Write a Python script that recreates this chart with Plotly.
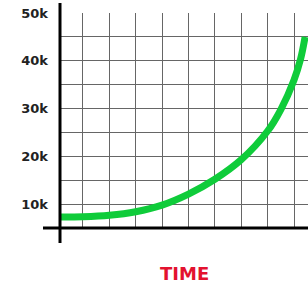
import plotly.graph_objects as go

# Data
time_x = [0.13, 1.0, 2.0, 3.0, 4.0, 5.0, 6.0, 7.0, 8.0, 8.5, 9.0, 9.25, 9.42]
value_y = [7300, 7350, 7650, 8400, 9800, 12100, 15200, 19300, 25300, 29800, 36000, 40400, 45000]

y_tick_vals = [5000, 10000, 15000, 20000, 25000, 30000, 35000, 40000, 45000, 50000]
y_tick_text = ["", "10k", "", "20k", "", "30k", "", "40k", "", "50k"]
x_grid_vals = [1, 2, 3, 4, 5, 6, 7, 8, 9]
x_title = "TIME"

fig = go.Figure()
fig.add_trace(go.Scatter(
    x=time_x, y=value_y, mode="lines",
    line=dict(color="#0fcc3a", width=7, shape="spline", smoothing=1.0),
    hoverinfo="skip", showlegend=False, cliponaxis=False,
))

fig.update_layout(
    width=308, height=285,
    margin=dict(l=60, r=0, t=13, b=57),
    paper_bgcolor="white", plot_bgcolor="white",
    xaxis=dict(
        range=[0.13, 9.53], tickvals=x_grid_vals, showticklabels=False,
        showgrid=True, gridcolor="#666666", gridwidth=1.2,
        zeroline=False, showline=False, ticks="",
        fixedrange=True,
    ),
    yaxis=dict(
        range=[5000, 50000], tickvals=y_tick_vals, ticktext=y_tick_text,
        showgrid=True, gridcolor="#666666", gridwidth=1.2,
        zeroline=False, showline=False, ticks="", ticklabelstandoff=11,
        tickfont=dict(family="DejaVu Sans", size=13, color="#222222", weight="bold"),
        fixedrange=True,
    ),
    shapes=[
        # vertical axis line (extends beyond plot area)
        dict(type="line", xref="paper", yref="paper", x0=0, x1=0,
             y0=-15/215, y1=(215 + 10)/215, line=dict(color="black", width=3)),
        # horizontal axis line
        dict(type="line", xref="paper", yref="paper", x0=-17/248, x1=1,
             y0=0, y1=0, line=dict(color="black", width=3)),
    ],
    annotations=[
        dict(text=x_title, xref="paper", yref="paper", x=(184.5 - 60) / 248,
             y=-(273.5 - 228) / 215, xanchor="center", yanchor="middle",
             showarrow=False,
             font=dict(family="DejaVu Sans", size=18, color="#e3122f", weight="bold")),
    ],
)

fig.write_html(
    "out.html",
    config={"displayModeBar": False},
    post_script="document.body.style.margin='0';document.body.style.overflow='hidden';",
)
